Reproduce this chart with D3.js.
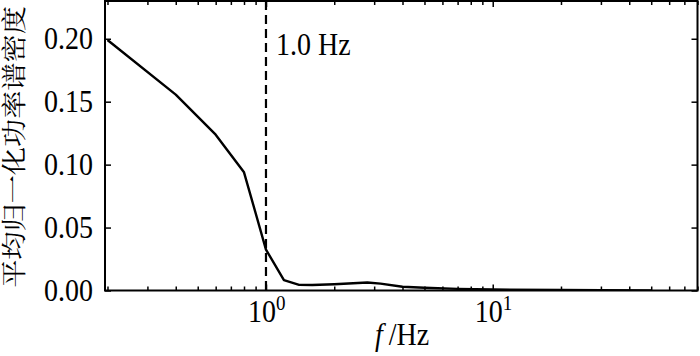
<!DOCTYPE html>
<html>
<head>
<meta charset="utf-8">
<script src="https://cdn.jsdelivr.net/npm/d3@7"></script>
<style>
  body { margin: 0; background: #fff; }
  svg text { fill: #000; }
</style>
</head>
<body>
<div id="chart"></div>
<script>
// frequency (Hz) and mean normalised PSD
const freqs = [0.2, 0.4, 0.6, 0.8, 1.0, 1.2, 1.4, 1.6, 2.0, 2.8, 3.2, 4.0, 5.0, 7.0, 10, 20, 30, 50];
const psd   = [0.199, 0.1556, 0.1238, 0.0939, 0.0325, 0.0082, 0.0045, 0.0044, 0.005, 0.0063, 0.0055, 0.003, 0.0022, 0.0013, 0.0008, 0.0005, 0.0003, 0.0001];
const yTicks = [0, 0.05, 0.10, 0.15, 0.20];
const xMajor = [1, 10];
const xMinor = [0.2, 0.3, 0.4, 0.5, 0.6, 0.7, 0.8, 0.9, 2, 3, 4, 5, 6, 7, 8, 9, 20, 30, 40, 50, 60, 70, 80];
const markerFreq = 1.0;
const markerLabel = '1.0 Hz';
const yLabel = '平均归一化功率谱密度';

const W = 700, H = 356;
const margin = {top: 1, right: 2.5, bottom: 65.5, left: 105};
const width = W - margin.left - margin.right;
const height = H - margin.top - margin.bottom;
const serif = 'Liberation Serif';
const tickFont = 28;
const stretch = 1.15; // the original figure's text is a bit taller than wide

const svg = d3.select('#chart').append('svg')
    .attr('width', W)
    .attr('height', H);
const g = svg.append('g')
    .attr('transform', `translate(${margin.left},${margin.top})`);

const x = d3.scaleLog().domain([0.195, 80]).range([0, width]);
const y = d3.scaleLinear().domain([0, 0.23]).range([height, 0]);

const place = (px, py) => `translate(${px},${py}) scale(1,${stretch})`;

// inward ticks on all four sides
const addTicks = (axis, transform) => {
    const a = g.append('g').attr('transform', transform).call(axis);
    a.select('.domain').remove();
    a.selectAll('line').attr('stroke', '#000').attr('stroke-width', 1.5);
    a.selectAll('text').remove();
    return a;
};
addTicks(d3.axisBottom(x).tickValues(xMinor).tickSize(-4), `translate(0,${height})`);
addTicks(d3.axisBottom(x).tickValues(xMajor).tickSize(-6), `translate(0,${height})`);
addTicks(d3.axisTop(x).tickValues(xMinor).tickSize(-4), 'translate(0,0)');
addTicks(d3.axisTop(x).tickValues(xMajor).tickSize(-6), 'translate(0,0)');
addTicks(d3.axisLeft(y).tickValues(yTicks).tickSize(-6), 'translate(0,0)');
addTicks(d3.axisRight(y).tickValues(yTicks).tickSize(-6), `translate(${width},0)`);

// frame
g.append('rect')
    .attr('width', width)
    .attr('height', height)
    .attr('fill', 'none')
    .attr('stroke', '#000')
    .attr('stroke-width', 2);

// y tick labels
g.selectAll('.ylab')
    .data(yTicks)
    .enter().append('text')
    .attr('class', 'ylab')
    .attr('transform', d => place(-12, y(d) + 10.5))
    .attr('text-anchor', 'end')
    .attr('font-family', serif)
    .attr('font-size', tickFont)
    .text(d => d3.format('.2f')(d));

// x tick labels 10^n
const xl = g.selectAll('.xlab')
    .data(xMajor)
    .enter().append('text')
    .attr('class', 'xlab')
    .attr('transform', d => place(x(d) - 18, height + 31))
    .attr('font-family', serif)
    .attr('font-size', tickFont);
xl.append('tspan').text('10');
xl.append('tspan')
    .attr('dy', -10)
    .attr('font-size', 19)
    .text(d => Math.round(Math.log10(d)));

// axis titles
const xt = svg.append('text')
    .attr('transform', place(375, H - 11))
    .attr('font-family', serif)
    .attr('font-size', tickFont);
xt.append('tspan').attr('font-style', 'italic').text('f');
xt.append('tspan').attr('dx', 6).text('/Hz');

svg.append('text')
    .attr('transform', `translate(23,${margin.top + 146}) scale(1,${stretch}) rotate(-90)`)
    .attr('text-anchor', 'middle')
    .attr('font-family', 'Noto Serif CJK SC')
    .attr('font-size', 24.5)
    .text(yLabel);

// clip for marks
svg.append('defs').append('clipPath').attr('id', 'clip')
    .append('rect').attr('width', width).attr('height', height);

// marker line
g.append('line')
    .attr('x1', x(markerFreq))
    .attr('x2', x(markerFreq))
    .attr('y1', 0)
    .attr('y2', height)
    .attr('stroke', '#000')
    .attr('stroke-width', 2.2)
    .attr('stroke-dasharray', '9,5');

g.append('text')
    .attr('transform', place(x(markerFreq) + 10, 54))
    .attr('font-family', serif)
    .attr('font-size', tickFont)
    .text(markerLabel);

// PSD curve
const line = d3.line()
    .x((d, i) => x(freqs[i]))
    .y(d => y(d));

g.append('path')
    .datum(psd)
    .attr('clip-path', 'url(#clip)')
    .attr('d', line)
    .attr('fill', 'none')
    .attr('stroke', '#000')
    .attr('stroke-width', 2.4)
    .attr('stroke-linejoin', 'round');
</script>
</body>
</html>
